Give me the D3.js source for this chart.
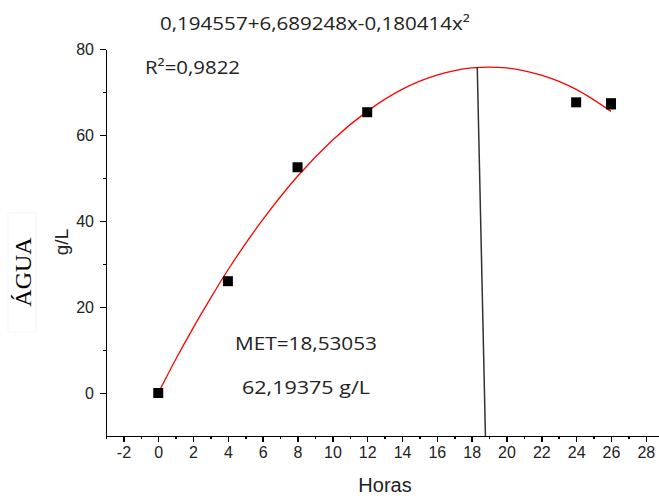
<!DOCTYPE html>
<html>
<head>
<meta charset="utf-8">
<style>
body { margin: 0; background: #fff; }
.axis path, .axis line { stroke: #000; stroke-width: 1.5; shape-rendering: crispEdges; }
.axis text { font: 16px "Liberation Sans", Arial, sans-serif; fill: #222; }
.note { font-family: "Open Sans", "Noto Sans", sans-serif; font-size: 18px; fill: #222; }
</style>
</head>
<body>
<div id="chart"></div>
<script src="https://cdnjs.cloudflare.com/ajax/libs/d3/7.8.5/d3.min.js"></script>
<script>
// measured points (Horas, g/L)
var horas = [0, 4, 8, 12, 24, 26, 26];
var agua  = [0, 26, 52.5, 65.3, 67.6, 67.1, 67.4];

// fitted curve
var fitX = [0, 1, 2, 3, 4, 6, 8, 10, 12, 14, 16, 18, 19, 20, 22, 24, 26];
var fitY = [0, 7.8, 15.1, 22.0, 28.6, 40.3, 50.4, 58.8, 65.5, 70.6, 73.9, 75.6, 75.8, 75.6, 73.9, 70.6, 65.5];

// line marking the maximum
var metX = [18.32, 18.79];
var metY = [75.8, -10];

var xTicks = [-2, 0, 2, 4, 6, 8, 10, 12, 14, 16, 18, 20, 22, 24, 26, 28];
var xMinor = [-3, -1, 1, 3, 5, 7, 9, 11, 13, 15, 17, 19, 21, 23, 25, 27];
var yTicks = [0, 20, 40, 60, 80];
var yMinor = [10, 30, 50, 70];

var width = 659, height = 496;

var svg = d3.select('#chart').append('svg')
  .attr('width', width)
  .attr('height', height);

var x = d3.scaleLinear().domain([-3, 28.7]).range([106, 658]);
var y = d3.scaleLinear().domain([-10, 80]).range([436, 49]);

// axes
svg.append('g').attr('class', 'axis')
  .attr('transform', 'translate(0,' + y(-10) + ')')
  .call(d3.axisBottom(x).tickValues(xMinor).tickSize(3).tickSizeOuter(0).tickFormat(''));
svg.append('g').attr('class', 'axis')
  .attr('transform', 'translate(0,' + y(-10) + ')')
  .call(d3.axisBottom(x).tickValues(xTicks).tickSize(6).tickSizeOuter(0).tickPadding(5)
    .tickFormat(d => String(d)));

svg.append('g').attr('class', 'axis')
  .attr('transform', 'translate(' + x(-3) + ',0)')
  .call(d3.axisLeft(y).tickValues(yMinor).tickSize(3).tickSizeOuter(0).tickFormat(''));
svg.append('g').attr('class', 'axis')
  .attr('transform', 'translate(' + x(-3) + ',0)')
  .call(d3.axisLeft(y).tickValues(yTicks).tickSize(6).tickSizeOuter(0).tickPadding(6)
    .tickFormat(d => String(d)));

svg.selectAll('.domain').attr('stroke-width', 1.5);

// fit curve
var fit = fitX.map((d, i) => [d, fitY[i]]);
svg.append('path')
  .datum(fit)
  .attr('fill', 'none')
  .attr('stroke', '#f00')
  .attr('stroke-width', 1.3)
  .attr('d', d3.line().x(d => x(d[0])).y(d => y(d[1])).curve(d3.curveMonotoneX));

// vertical line at the maximum
svg.append('line')
  .attr('x1', x(metX[0])).attr('y1', y(metY[0]))
  .attr('x2', x(metX[1])).attr('y2', y(metY[1]))
  .attr('stroke', '#333')
  .attr('stroke-width', 1.5);

// points
var pts = horas.map((d, i) => [d, agua[i]]);
svg.selectAll('.pt')
  .data(pts)
  .enter().append('rect')
  .attr('class', 'pt')
  .attr('x', d => x(d[0]) - 5)
  .attr('y', d => y(d[1]) - 5)
  .attr('width', 10)
  .attr('height', 10)
  .attr('fill', '#000');

// annotations
svg.append('text').attr('class', 'note')
  .attr('x', 160).attr('y', 30)
  .attr('textLength', 310).attr('lengthAdjust', 'spacingAndGlyphs')
  .text('0,194557+6,689248x-0,180414x²');
svg.append('text').attr('class', 'note')
  .attr('x', 145).attr('y', 74)
  .attr('textLength', 95).attr('lengthAdjust', 'spacingAndGlyphs')
  .text('R²=0,9822');
svg.append('text').attr('class', 'note')
  .attr('x', 235).attr('y', 350)
  .attr('textLength', 142).attr('lengthAdjust', 'spacingAndGlyphs')
  .text('MET=18,53053');
svg.append('text').attr('class', 'note')
  .attr('x', 242).attr('y', 394)
  .attr('textLength', 128).attr('lengthAdjust', 'spacingAndGlyphs')
  .text('62,19375 g/L');

// axis titles
svg.append('text')
  .attr('x', 385).attr('y', 492)
  .attr('text-anchor', 'middle')
  .style('font', '20px "Liberation Sans", Arial, sans-serif')
  .style('fill', '#222')
  .text('Horas');

svg.append('text')
  .attr('transform', 'translate(68,242) rotate(-90)')
  .attr('text-anchor', 'middle')
  .style('font', '19px "Liberation Sans", Arial, sans-serif')
  .style('fill', '#222')
  .text('g/L');

svg.append('rect')
  .attr('x', 8).attr('y', 213).attr('width', 28).attr('height', 119)
  .attr('fill', 'none').attr('stroke', '#f5f5f5');
svg.append('text')
  .attr('transform', 'translate(31,272) rotate(-90)')
  .attr('text-anchor', 'middle')
  .style('font', '24px "Liberation Serif", "Times New Roman", serif')
  .style('fill', '#000')
  .text('ÁGUA');
</script>
</body>
</html>
